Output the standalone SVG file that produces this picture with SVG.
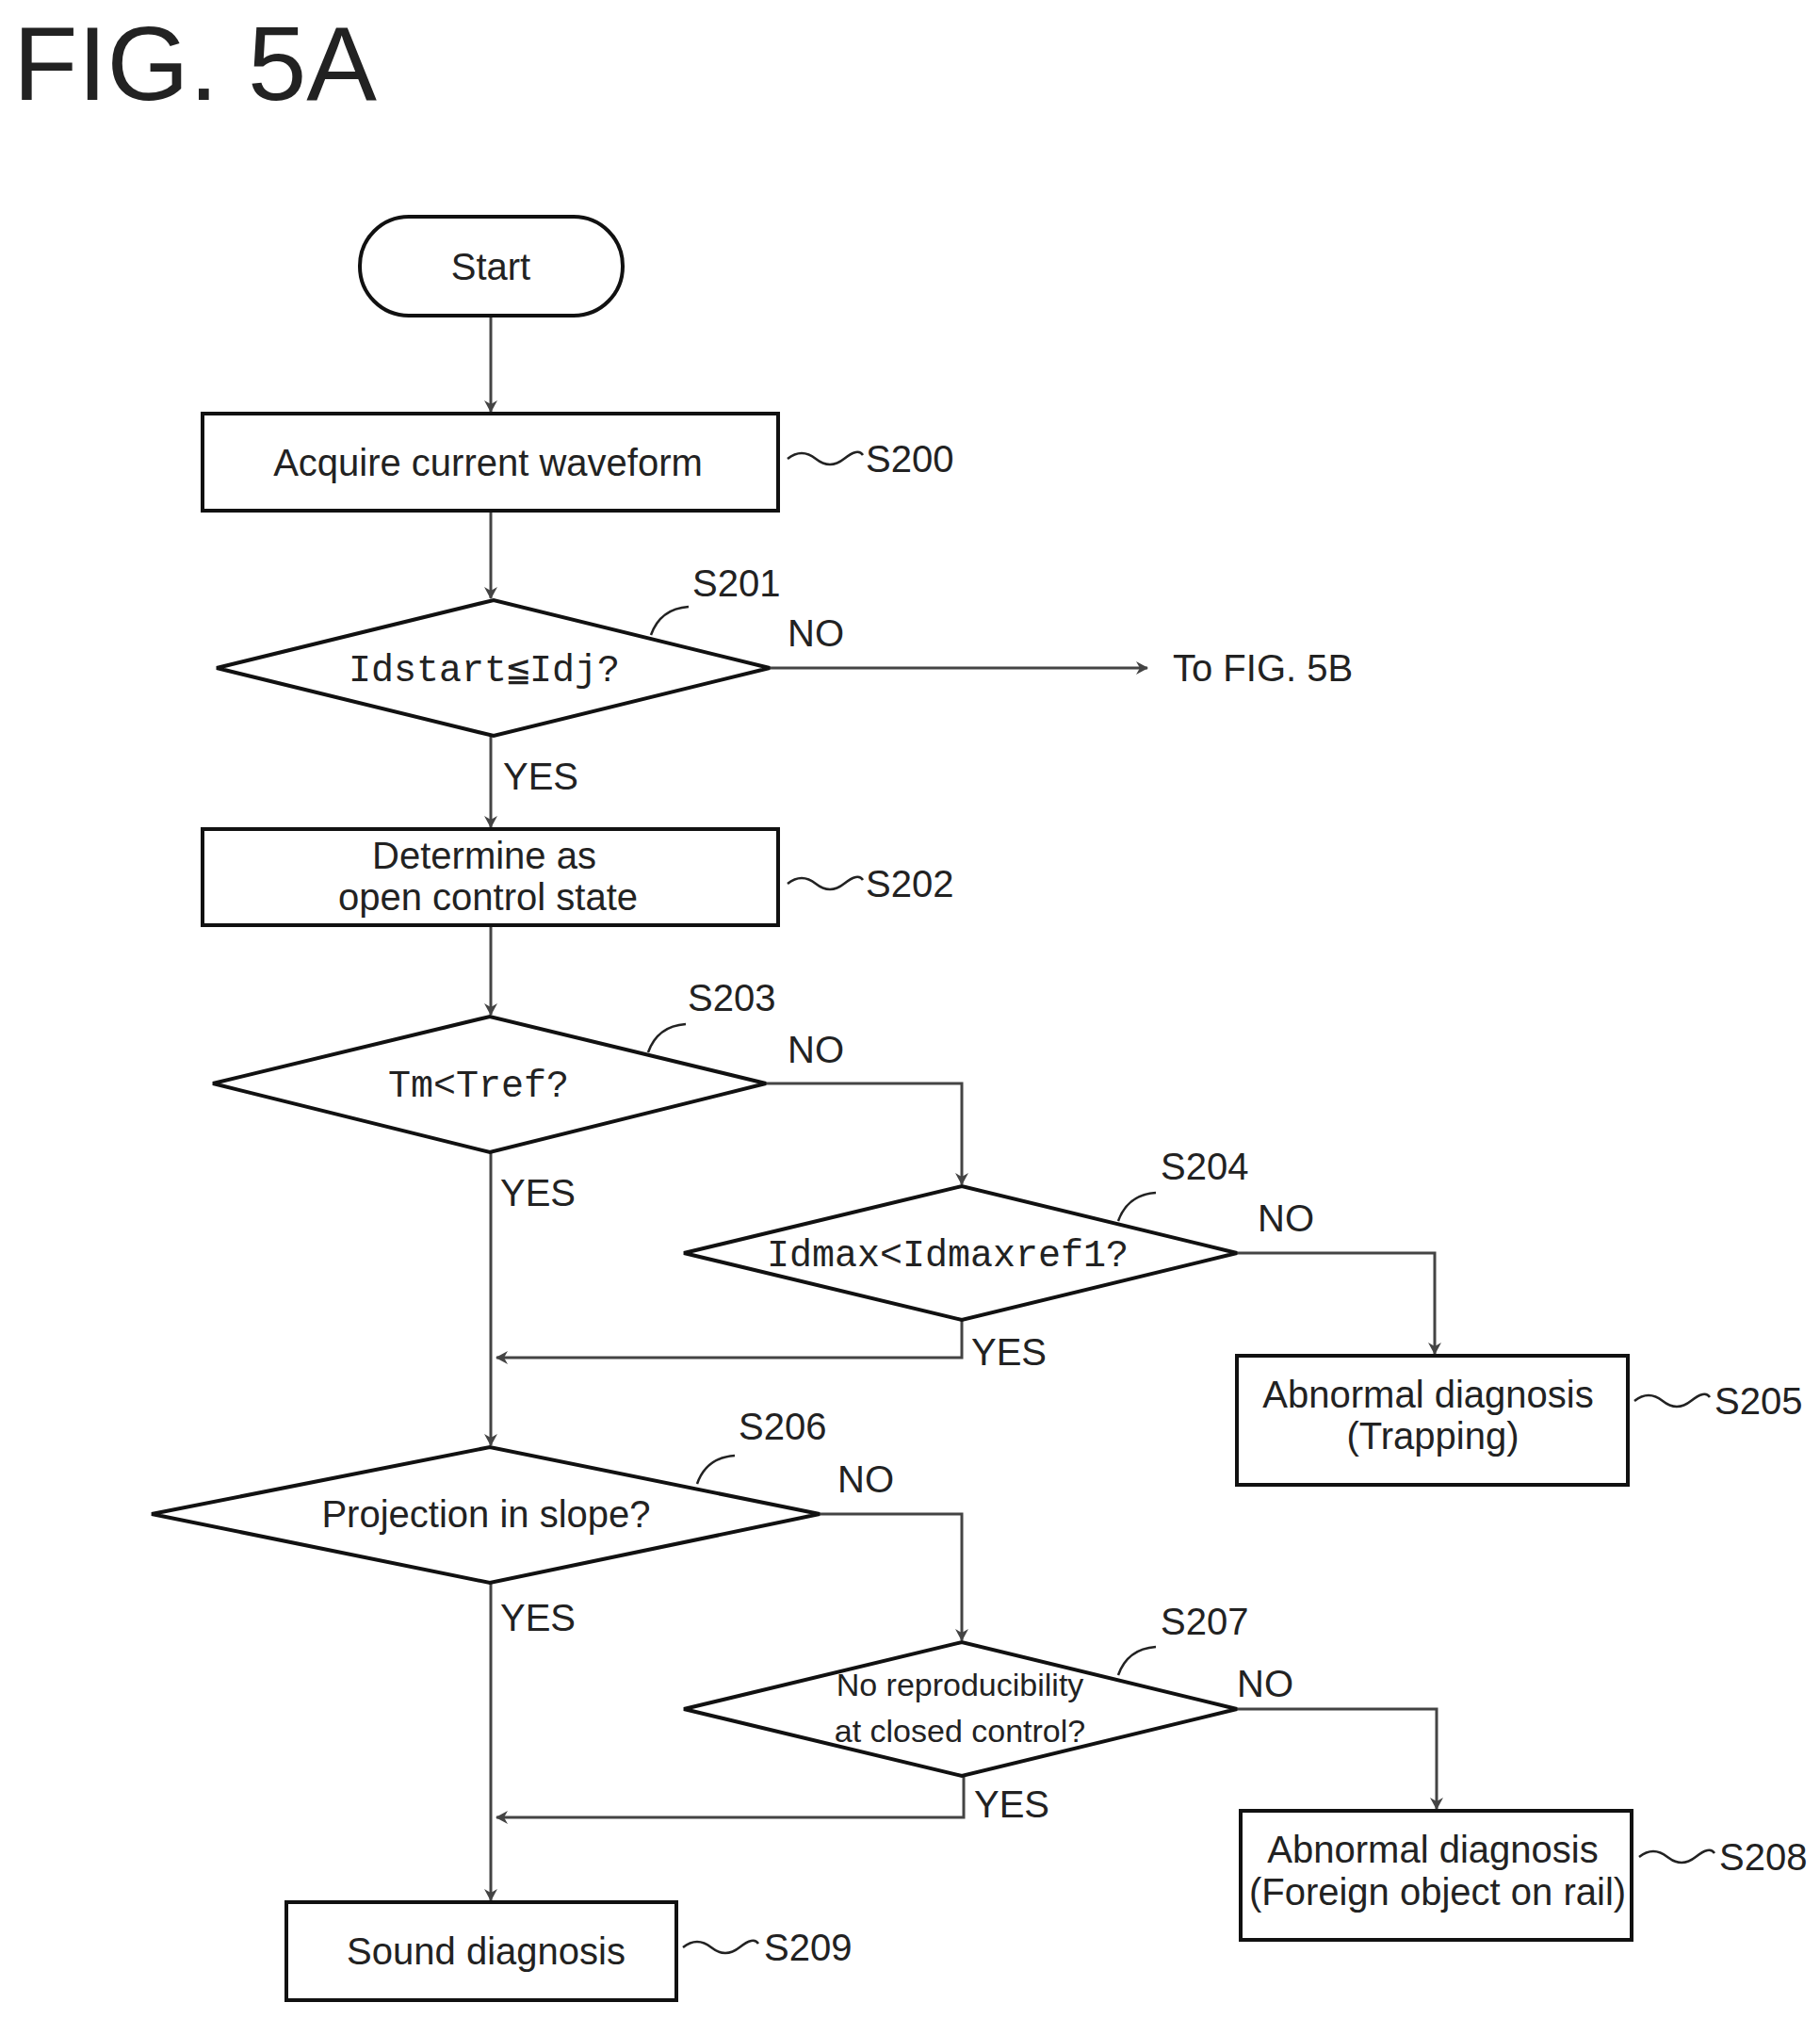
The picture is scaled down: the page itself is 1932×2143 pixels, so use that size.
<svg xmlns="http://www.w3.org/2000/svg" width="1932" height="2143" viewBox="0 0 1932 2143">
<style>
text{font-family:"Liberation Sans",Arial,sans-serif;fill:#222}
.t{font-size:40px;text-anchor:middle}
.m{font-family:"Liberation Mono","DejaVu Sans Mono",monospace;font-size:40px;text-anchor:middle}
.l{font-size:40px}
.n{fill:#fff;stroke:#111;stroke-width:4}
.c{fill:none;stroke:#444;stroke-width:3}
.lead{fill:none;stroke:#222;stroke-width:2.5}
</style>
<defs>
<marker id="a" markerWidth="14" markerHeight="14" refX="12" refY="7" orient="auto" markerUnits="userSpaceOnUse" viewBox="0 0 14 14">
<path d="M0,0 L13,7 L0,14 L4,7 Z" fill="#444"/>
</marker>
</defs>
<rect width="1932" height="2143" fill="#fff"/>
<text x="14" y="106" style="font-size:112px">FIG. 5A</text>
<g id="connectors">
<path class="c" d="M521,335 V437" marker-end="url(#a)"/>
<path class="c" d="M521,542 V635" marker-end="url(#a)"/>
<path class="c" d="M817,709 H1218" marker-end="url(#a)"/>
<path class="c" d="M521,781 V878" marker-end="url(#a)"/>
<path class="c" d="M521,982 V1077" marker-end="url(#a)"/>
<path class="c" d="M813,1150 H1021 V1257" marker-end="url(#a)"/>
<path class="c" d="M1313,1330 H1523 V1437" marker-end="url(#a)"/>
<path class="c" d="M1021,1401 V1441 H527" marker-end="url(#a)"/>
<path class="c" d="M521,1223 V1534" marker-end="url(#a)"/>
<path class="c" d="M870,1607 H1021 V1741" marker-end="url(#a)"/>
<path class="c" d="M1313,1814 H1525 V1920" marker-end="url(#a)"/>
<path class="c" d="M1023,1885 V1929 H527" marker-end="url(#a)"/>
<path class="c" d="M521,1680 V2017" marker-end="url(#a)"/>
<text class="l" x="836" y="686">NO</text>
<text class="l" x="534" y="838">YES</text>
<text class="l" x="836" y="1128">NO</text>
<text class="l" x="531" y="1280">YES</text>
<text class="l" x="1335" y="1307">NO</text>
<text class="l" x="1031" y="1449">YES</text>
<text class="l" x="889" y="1584">NO</text>
<text class="l" x="531" y="1731">YES</text>
<text class="l" x="1313" y="1801">NO</text>
<text class="l" x="1034" y="1929">YES</text>
<text class="l" x="1245" y="723">To FIG. 5B</text>
</g>
<g id="start"><rect class="n" x="382" y="230" width="279" height="105" rx="52"/><text class="t" x="521" y="297">Start</text></g>
<g id="s200"><rect class="n" x="215" y="439" width="611" height="103"/><text class="t" x="518" y="505">Acquire current waveform</text>
<path class="lead" d="M836,487 q15,-12 30,0 t30,0 t20,-4"/><text class="l" x="919" y="501">S200</text></g>
<g id="s201"><polygon class="n" points="230,709 524,637 817,709 524,781"/><text class="m" x="514" y="723">Idstart≦Idj?</text>
<path class="lead" d="M691,674 q10,-28 40,-30"/><text class="l" x="735" y="633">S201</text></g>
<g id="s202"><rect class="n" x="215" y="880" width="611" height="102"/><text class="t" x="514" y="922">Determine as</text><text class="t" x="518" y="966">open control state</text>
<path class="lead" d="M836,938 q15,-12 30,0 t30,0 t20,-4"/><text class="l" x="919" y="952">S202</text></g>
<g id="s203"><polygon class="n" points="226,1150 520,1079 813,1150 520,1223"/><text class="m" x="508" y="1164">Tm&lt;Tref?</text>
<path class="lead" d="M688,1117 q10,-28 40,-30"/><text class="l" x="730" y="1073">S203</text></g>
<g id="s204"><polygon class="n" points="726,1330 1021,1259 1313,1330 1021,1401"/><text class="m" x="1006" y="1344">Idmax&lt;Idmaxref1?</text>
<path class="lead" d="M1187,1296 q10,-28 40,-30"/><text class="l" x="1232" y="1252">S204</text></g>
<g id="s205"><rect class="n" x="1313" y="1439" width="415" height="137"/><text class="t" x="1516" y="1494">Abnormal diagnosis</text><text class="t" x="1521" y="1538">(Trapping)</text>
<path class="lead" d="M1735,1487 q15,-12 30,0 t30,0 t20,-4"/><text class="l" x="1820" y="1501">S205</text></g>
<g id="s206"><polygon class="n" points="161,1607 520,1536 870,1607 520,1680"/><text class="t" x="516" y="1621">Projection in slope?</text>
<path class="lead" d="M740,1575 q10,-28 40,-30"/><text class="l" x="784" y="1528">S206</text></g>
<g id="s207"><polygon class="n" points="726,1814 1021,1743 1313,1814 1021,1885"/><text class="t" x="1019" y="1800" style="font-size:34px">No reproducibility</text><text class="t" x="1019" y="1849" style="font-size:34px">at closed control?</text>
<path class="lead" d="M1187,1778 q10,-28 40,-30"/><text class="l" x="1232" y="1735">S207</text></g>
<g id="s208"><rect class="n" x="1317" y="1922" width="415" height="137"/><text class="t" x="1521" y="1977">Abnormal diagnosis</text><text class="t" x="1526" y="2022">(Foreign object on rail)</text>
<path class="lead" d="M1740,1971 q15,-12 30,0 t30,0 t20,-4"/><text class="l" x="1825" y="1985">S208</text></g>
<g id="s209"><rect class="n" x="304" y="2019" width="414" height="104"/><text class="t" x="516" y="2085">Sound diagnosis</text>
<path class="lead" d="M725,2067 q15,-12 30,0 t30,0 t20,-4"/><text class="l" x="811" y="2081">S209</text></g>
</svg>
